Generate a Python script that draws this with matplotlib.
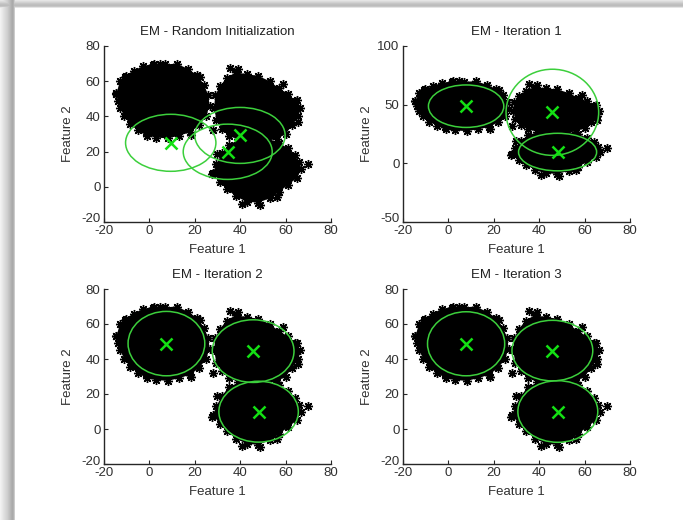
import numpy as np
import matplotlib
matplotlib.use('Agg')
import matplotlib.pyplot as plt
import matplotlib.transforms as mtransforms
from matplotlib.patches import Ellipse

FONT = ['Liberation Sans Narrow', 'Liberation Sans', 'DejaVu Sans']
plt.rcParams['font.family'] = FONT
plt.rcParams['axes.unicode_minus'] = False

# ---------------- data ----------------
titles = ['EM - Random Initialization', 'EM - Iteration 1',
          'EM - Iteration 2', 'EM - Iteration 3']
x_ticks = [-20, 0, 20, 40, 60, 80]
y_ticks_list = [[-20, 0, 20, 40, 60, 80], [-50, 0, 50, 100],
                [-20, 0, 20, 40, 60, 80], [-20, 0, 20, 40, 60, 80]]
x_limits = (-20, 80)
y_limits_list = [(-20, 80), (-50, 100), (-20, 80), (-20, 80)]

# outlines of the three dense point clouds
cluster1_x = [-14.5, -13, -10.5, -7, -3, 2, 7, 12, 17, 21, 24, 26, 26.5, 25, 22, 18, 13, 8, 3, -1, -5, -8.5, -11, -13, -14]
cluster1_y = [53, 60, 63, 66, 68.5, 70, 69.5, 70, 67, 63.5, 58, 52, 46, 40, 35, 31, 29, 27.5, 28, 29, 32, 35.5, 40, 45, 49]
cluster2_x = [29, 31, 34, 38, 43, 48, 53, 57, 61, 64, 66.5, 65.5, 63, 60, 56, 50, 44, 39, 35, 32, 29.5, 28.5]
cluster2_y = [52, 57, 62, 65, 64, 63, 60, 56, 53, 49, 45, 40, 35, 30, 27, 26, 26, 27, 29, 33, 38, 45]
cluster3_x = [28, 29.5, 32, 35, 40, 46, 52, 57, 61, 64, 66, 67, 65, 61, 57, 53, 48, 43, 38, 34, 31]
cluster3_y = [8, 13, 19, 24, 27, 28, 27.5, 25, 22, 18, 14, 10, 5, 1, -3, -6.5, -9, -8.5, -5.5, -1, 3]

# scattered points outside the dense cores
outlier_x = [-14.5, -1.5, 1.6, 4.6, 39.1, 35.4, 58.7, 64.9, 64.9, 65.6, 29.6, 27.6, 40.6, 70.0, 56.3, 18.5, 28.1, -10.9, 22.2, 48.7]
outlier_y = [53.4, 31.2, 69.2, 70.0, 66.7, 67.3, 58.4, 49.3, 44.5, 36.9, 18.9, 7.1, -9.6, 13.2, -5.8, 29.5, 32.0, 62.5, 62.5, -10.5]

# Gaussian components per panel: means and ellipse axes (full width / height)
means_x = [[9.4, 34.5, 39.9], [7.8, 45.8, 48.1], [7.5, 45.7, 48.1], [7.8, 45.8, 48.2]]
means_y = [[25.0, 19.9, 29.2], [48.7, 43.5, 9.6], [48.8, 44.5, 9.9], [48.7, 44.8, 10.0]]
ell_w = [[39.8, 39.2, 39.8], [33.2, 40.8, 34.4], [33.8, 36.0, 35.0], [34.0, 35.6, 35.2]]
ell_h = [[32.4, 31.4, 31.8], [36.2, 73.4, 32.0], [36.8, 35.8, 34.8], [36.6, 34.6, 35.2]]

# ---------------- figure ----------------
W, H = 683, 520
fig = plt.figure(figsize=(W / 100, H / 100), dpi=100)
fig.patch.set_facecolor('white')

# window shadow (decoration)
bg = fig.add_axes([0, 0, 1, 1], zorder=-10)
img = np.ones((H, W, 3))
left_cols = np.array([0.95, 0.93, 0.91, 0.89, 0.87, 0.85, 0.83, 0.81, 0.78, 0.75, 0.72, 0.69, 0.67, 0.70, 0.80])
top_rows = np.array([0.90, 0.86, 0.82, 0.78, 0.75, 0.74, 0.78, 0.90])
for i, v in enumerate(left_cols):
    img[:, i, :] = v
for j, v in enumerate(top_rows):
    img[j, :, :] = np.minimum(img[j, :, :], v)
bg.imshow(img, aspect='auto', interpolation='nearest')
bg.axis('off')

ax_px = [(104, 46, 331, 222), (403, 46, 630, 222),
         (104, 289, 331, 464), (403, 289, 630, 464)]

ell_color = '#3ccf3c'
mark_color = '#14e014'
axis_color = '#262626'
text_color = '#303030'
fs = 9.5
star = (8, 2, 0)
shift_up = mtransforms.ScaledTranslation(0, 4 / 100, fig.dpi_scale_trans)

for k in range(4):
    l, t, r, b = ax_px[k]
    ax = fig.add_axes([l / W, 1 - b / H, (r - l) / W, (b - t) / H])
    wpx, hpx = r - l, b - t
    for cx, cy in ((cluster1_x, cluster1_y), (cluster2_x, cluster2_y), (cluster3_x, cluster3_y)):
        ax.fill(cx, cy, color='black', lw=0, zorder=1)
        ax.plot(cx, cy, linestyle='none', marker=star, markersize=6.5,
                markeredgewidth=1.0, color='black', zorder=2)
    ax.plot(outlier_x, outlier_y, linestyle='none', marker=star, markersize=6.5,
            markeredgewidth=1.0, color='black', zorder=2)
    for mx, my, ew, eh in zip(means_x[k], means_y[k], ell_w[k], ell_h[k]):
        ax.add_patch(Ellipse((mx, my), ew, eh, fill=False, edgecolor=ell_color,
                             lw=1.1, zorder=3))
    ax.plot(means_x[k], means_y[k], linestyle='none', marker='x', markersize=8,
            markeredgewidth=1.8, color=mark_color, zorder=4)

    ax.set_xlim(*x_limits)
    ax.set_ylim(*y_limits_list[k])
    ax.set_xticks(x_ticks)
    ax.set_yticks(y_ticks_list[k])
    ax.spines['top'].set_visible(False)
    ax.spines['right'].set_visible(False)
    for s in ('left', 'bottom'):
        ax.spines[s].set_color(axis_color)
        ax.spines[s].set_linewidth(1.0)
    ax.tick_params(direction='in', length=3, width=0.8, color=axis_color,
                   labelsize=fs, labelcolor=text_color, pad=2.5)
    ax.tick_params(axis='x', pad=2.2)
    # lowest y tick label sits slightly above the corner, as in the reference
    lab0 = ax.get_yticklabels()[0]
    lab0.set_transform(lab0.get_transform() + shift_up)
    ax.set_xlabel('Feature 1', fontsize=fs, color=text_color, va='center')
    ax.xaxis.set_label_coords(0.5, -28 / hpx)
    ax.set_ylabel('Feature 2', fontsize=fs, color=text_color, va='center', ha='center')
    ax.yaxis.set_label_coords(-36 / wpx, 0.5)
    ax.text(0.5, 1 + 14 / hpx, titles[k], transform=ax.transAxes, ha='center',
            va='center', fontsize=fs, color='#202020')
    ax.set_facecolor('none')

fig.savefig('out.png', dpi=100, facecolor='white')
